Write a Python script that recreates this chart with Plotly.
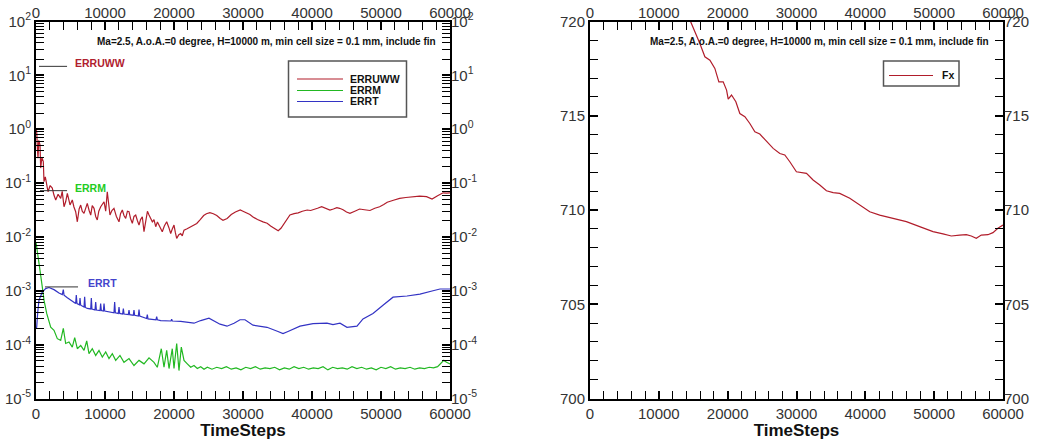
import numpy as np
import plotly.graph_objects as go

W, H = 1038, 441

# ---------------- data ----------------
red_t = [0, 100, 200, 290, 400, 580, 680, 850, 1060, 1160, 1350, 1550, 1740, 2050, 2360, 2600, 2860, 3200,
         3580, 3800, 4060, 4300, 4540, 4930, 5260, 5500, 5750, 5990, 6250, 6480, 6700, 6960, 7200, 7430, 7700,
         7930, 8150, 8410, 8650, 8880, 9100, 9380, 9860, 10100, 10330, 10500, 10720, 11000, 11300, 11650,
         12030, 12250, 12510, 12750, 13000, 13250, 13480, 13700, 13960, 14200, 14450, 14700, 14930, 15150,
         15410, 15650, 15900, 16150, 16380, 16600, 16860, 17100, 17350, 17600, 17830, 18050, 18300, 18600,
         18940, 19250, 19520, 19750, 20000, 20200, 20390, 20700, 20970, 21200, 21450, 21900, 22300, 22800,
         23300, 23800, 24300, 24700, 25200, 25700, 26200, 26700, 27100, 27700, 28300, 28900, 29600, 30000,
         30500, 31000, 31400, 32100, 32900, 33500, 34000, 34600, 35100, 35500, 36000, 36400, 36800, 37400,
         38000, 38600, 39300, 39800, 40300, 40800, 41400, 42000, 42600, 43100, 43600, 44000, 44500, 45000,
         45500, 46200, 46900, 47600, 48400, 49100, 49800, 50400, 50900, 51800, 52700, 53600, 54600, 55600,
         56600, 57000, 57400, 58200, 59000, 59500, 60000]
red_v = [1.0, 0.91, 0.45, 0.29, 0.62, 0.51, 0.19, 0.30, 0.25, 0.106, 0.13, 0.100, 0.069, 0.090, 0.081, 0.060,
         0.0485, 0.062, 0.052, 0.070, 0.0364, 0.045, 0.0646, 0.0392, 0.0485, 0.036, 0.0294, 0.0191, 0.033,
         0.039, 0.030, 0.0274, 0.036, 0.042, 0.031, 0.0255, 0.038, 0.034, 0.024, 0.0206, 0.030, 0.0364,
         0.045, 0.030, 0.069, 0.040, 0.0255, 0.031, 0.034, 0.024, 0.0191, 0.027, 0.0316, 0.025, 0.0221,
         0.030, 0.0294, 0.022, 0.0179, 0.024, 0.0255, 0.020, 0.0166, 0.021, 0.0237, 0.0125, 0.020, 0.030,
         0.0255, 0.022, 0.0191, 0.021, 0.0155, 0.019, 0.0166, 0.014, 0.0125, 0.016, 0.0191, 0.015, 0.0116,
         0.014, 0.0166, 0.012, 0.0094, 0.011, 0.0116, 0.0105, 0.0134, 0.0142, 0.0150, 0.0165, 0.0178, 0.021,
         0.025, 0.027, 0.0282, 0.027, 0.025, 0.022, 0.0204, 0.022, 0.026, 0.029, 0.0316, 0.030, 0.028,
         0.026, 0.0237, 0.021, 0.019, 0.018, 0.016, 0.0145, 0.013, 0.0145, 0.018, 0.022, 0.0255, 0.027,
         0.028, 0.030, 0.0316, 0.031, 0.033, 0.034, 0.0364, 0.034, 0.0316, 0.033, 0.035, 0.034, 0.032,
         0.029, 0.0274, 0.030, 0.033, 0.032, 0.031, 0.034, 0.0364, 0.040, 0.044, 0.048, 0.052, 0.054, 0.056,
         0.057, 0.056, 0.053, 0.0506, 0.058, 0.066, 0.065, 0.066]

green_t = [0, 190, 580, 910, 1160, 1550, 2130, 2610, 3090, 3580, 3960, 4300, 4780, 5260, 5610, 5990, 6480,
           6960, 7350, 7680, 8160, 8650, 9130, 9610, 10100, 10580, 11060, 11550, 12170, 12750, 13480, 14200,
           14930, 15650, 16380, 17100, 17580, 18160, 18550, 18940, 19280, 19750, 20000, 20390, 20720, 21060,
           21450, 21930, 22420, 22900, 23380, 23870, 24350, 24830,
           25500, 26200, 26900, 27600, 28300, 29000, 29700, 30400, 31100, 31800, 32500, 33200, 33900, 34600,
           35300, 36000, 36700, 37400, 38100, 38800, 39500, 40200, 40900, 41600, 42300, 43000, 43700, 44400,
           45100, 45800, 46500, 47200, 47900, 48600, 49300, 50000, 50700, 51400, 52100, 52800, 53500, 54200,
           54900, 55600, 56300, 57000, 57600, 58200, 58700, 59100, 59500, 60000]
green_v = [8.0e-3, 5.7e-3, 2.4e-3, 1.18e-3, 6.7e-4, 3.8e-4, 2.1e-4, 1.84e-4, 1.29e-4, 1.2e-4, 2.0e-4, 1.05e-4,
           1.12e-4, 9.0e-5, 1.35e-4, 8.4e-5, 9.7e-5, 7.8e-5, 1.17e-4, 6.8e-5, 8.4e-5, 6.3e-5, 7.8e-5, 5.9e-5,
           7.3e-5, 5.5e-5, 6.8e-5, 5.1e-5, 6.3e-5, 4.7e-5, 5.5e-5, 4.1e-5, 5.1e-5, 4.4e-5, 5.7e-5, 4.7e-5,
           3.8e-5, 8.4e-5, 3.8e-5, 7.8e-5, 3.6e-5, 8.4e-5, 3.6e-5, 1.05e-4, 3.3e-5, 9.0e-5, 5.1e-5, 4.4e-5,
           3.8e-5, 4.1e-5, 3.6e-5, 3.9e-5, 3.5e-5, 3.8e-5,
           3.5e-5, 3.8e-5, 3.6e-5, 3.9e-5, 3.5e-5, 3.7e-5, 3.4e-5, 3.8e-5, 3.6e-5, 3.9e-5, 3.5e-5, 3.7e-5,
           3.6e-5, 3.8e-5, 3.4e-5, 3.7e-5, 3.5e-5, 3.9e-5, 3.6e-5, 3.8e-5, 3.5e-5, 3.7e-5, 3.6e-5, 3.9e-5,
           3.4e-5, 3.8e-5, 3.6e-5, 3.7e-5, 3.5e-5, 3.9e-5, 3.6e-5, 3.8e-5, 3.5e-5, 3.7e-5, 3.4e-5, 3.8e-5,
           3.6e-5, 3.9e-5, 3.5e-5, 3.7e-5, 3.6e-5, 3.8e-5, 3.5e-5, 3.7e-5, 3.6e-5, 3.8e-5, 3.7e-5, 3.9e-5,
           4.6e-5, 5.1e-5, 4.7e-5, 4.4e-5]

blue_t = [0, 100, 250, 430, 910, 1400, 1880, 2610, 3330, 3810, 3960, 4060, 4540, 5260, 5750, 5840, 5940, 6300,
          6380, 6480, 6960, 7050, 7150, 7430, 7930, 8020, 8110, 8550, 8650, 8750, 9280, 9370, 9470, 9760,
          9860, 9960, 10580, 11300, 11400, 11500, 11930, 12030, 12130, 12560, 12660, 12760, 13380, 13480,
          13580, 14100, 14200, 14300, 14830, 14930, 15030, 16030, 16130, 16230, 17390, 17490, 17590, 18070,
          19560, 19660, 19760, 20970, 22900, 23870, 25070, 25800, 26670, 27680, 28700, 29570, 30290, 31450,
          33480, 35070, 35800, 36520, 38260, 40150, 42170, 43040, 44060, 45070, 46520, 47390, 48840, 50290,
          51740, 53770, 55650, 57540, 58550, 60000]
blue_v = [2.0e-4, 2.1e-4, 4.0e-4, 6.7e-4, 9.5e-4, 1.1e-3, 1.15e-3, 1.05e-3, 9.1e-4, 8.5e-4, 1.05e-3, 8.3e-4,
          7.4e-4, 6.4e-4, 5.8e-4, 8.3e-4, 5.8e-4, 5.5e-4, 7.3e-4, 5.4e-4, 5.0e-4, 7.7e-4, 4.9e-4, 4.7e-4,
          4.6e-4, 7.3e-4, 4.6e-4, 4.4e-4, 6.2e-4, 4.4e-4, 4.3e-4, 5.8e-4, 4.3e-4, 4.2e-4, 5.8e-4, 4.2e-4,
          4.0e-4, 3.9e-4, 6.2e-4, 3.9e-4, 3.8e-4, 5.0e-4, 3.8e-4, 3.7e-4, 4.7e-4, 3.7e-4, 3.6e-4, 4.4e-4,
          3.6e-4, 3.5e-4, 4.4e-4, 3.5e-4, 3.4e-4, 4.5e-4, 3.4e-4, 3.05e-4, 3.6e-4, 3.0e-4, 2.9e-4, 3.3e-4,
          2.9e-4, 2.8e-4, 2.75e-4, 2.95e-4, 2.75e-4, 2.7e-4, 2.5e-4, 2.8e-4, 3.1e-4, 2.8e-4, 2.4e-4, 2.2e-4,
          2.5e-4, 2.9e-4, 2.9e-4, 2.3e-4, 2.1e-4, 1.75e-4, 1.6e-4, 1.75e-4, 2.2e-4, 2.45e-4, 2.5e-4, 2.35e-4,
          2.5e-4, 2.1e-4, 2.2e-4, 3.0e-4, 3.8e-4, 5.4e-4, 7.6e-4, 8.0e-4, 8.7e-4, 1.0e-3, 1.08e-3, 1.08e-3]

fx_t = [13000, 14610, 15960, 16690, 17420, 18140, 18720, 19350, 19840, 20080, 20560, 21190, 21770, 22500,
        23220, 23950, 24670, 25640, 26610, 27580, 28300, 29030, 29990, 31450, 32410, 33380, 34350, 35320,
        36280, 37740, 39190, 40640, 42090, 44030, 45960, 47890, 49830, 51280, 52490, 53700, 54670, 55390,
        56120, 56840, 57810, 58540, 59260, 60000]
fx_v = [722.6, 720.0, 718.83, 718.13, 717.95, 717.51, 716.80, 716.80, 716.36, 715.88, 716.10, 715.74,
        715.12, 714.95, 714.59, 714.15, 714.03, 713.62, 713.27, 713.00, 712.92, 712.56, 712.03, 711.94,
        711.59, 711.33, 711.02, 710.92, 710.88, 710.62, 710.27, 709.91, 709.73, 709.56, 709.38, 709.12,
        708.85, 708.73, 708.62, 708.67, 708.69, 708.62, 708.50, 708.67, 708.69, 708.80, 709.03, 709.20]

series_names = ["ERRUWW", "ERRM", "ERRT"]
series_colors = ["#b11d2b", "#22b822", "#3333c4"]
label_colors = ["#b0202e", "#22cc22", "#4444cc"]
fx_name = "Fx"
fx_color = "#b11d2b"

# label markers for residual curves
label_line_t0 = [435, 580, 1300]
label_line_t1 = [4500, 4500, 6090]
label_line_v = [14.7, 0.0723, 1.18e-3]
label_text_t = [5300, 5300, 7200]
label_text_logv = [1.237, -1.091, -2.859]

x_ticks = [0, 10000, 20000, 30000, 40000, 50000, 60000]
x_ticktext = [str(v) for v in x_ticks]
log_exps = [-5, -4, -3, -2, -1, 0, 1, 2]
log_tickvals = [10.0 ** e for e in log_exps]
log_ticktext = ["10<sup>%d</sup>" % e for e in log_exps]
log_minor = [m * 10.0 ** e for e in log_exps[:-1] for m in range(2, 10)]
fx_ticks = [700, 705, 710, 715, 720]

subtitle = "Ma=2.5, A.o.A.=0 degree, H=10000 m, min cell size = 0.1 mm, include fin"

# ---------------- layout helpers ----------------
def PX(x):
    return x / W

def PY(y):
    return 1 - y / H

L_dom = [PX(36), PX(450)]
R_dom = [PX(590), PX(1003)]
Y_dom = [PY(398.5), PY(21.5)]

TICKFONT = dict(family="Liberation Sans, Arial, sans-serif", size=15, color="#333333")
LABFONT = "Liberation Sans, Arial, sans-serif"

fig = go.Figure()

for t, v, name, col in zip([red_t, green_t, blue_t], [red_v, green_v, blue_v], series_names, series_colors):
    fig.add_trace(go.Scatter(x=t, y=v, mode="lines", name=name, line=dict(color=col, width=1.2),
                             xaxis="x", yaxis="y", showlegend=False))

for t0, t1, v in zip(label_line_t0, label_line_t1, label_line_v):
    fig.add_trace(go.Scatter(x=[t0, t1], y=[v, v], mode="lines", line=dict(color="#333333", width=1),
                             xaxis="x", yaxis="y", showlegend=False, hoverinfo="skip"))

fig.add_trace(go.Scatter(x=fx_t, y=fx_v, mode="lines", name=fx_name, line=dict(color=fx_color, width=1.2),
                         xaxis="x2", yaxis="y2", showlegend=False))

# dummy traces so the mirrored label axes are drawn
fig.add_trace(go.Scatter(x=[None], y=[None], xaxis="x3", yaxis="y", showlegend=False, hoverinfo="skip"))
fig.add_trace(go.Scatter(x=[None], y=[None], xaxis="x", yaxis="y3", showlegend=False, hoverinfo="skip"))
fig.add_trace(go.Scatter(x=[None], y=[None], xaxis="x4", yaxis="y2", showlegend=False, hoverinfo="skip"))
fig.add_trace(go.Scatter(x=[None], y=[None], xaxis="x2", yaxis="y4", showlegend=False, hoverinfo="skip"))

main_ax = dict(showline=True, linewidth=2, linecolor="black", mirror="allticks", ticks="inside",
               ticklen=8, tickwidth=2, tickcolor="black", showgrid=False, zeroline=False,
               tickfont=TICKFONT, automargin=False)
lab_ax = dict(showline=False, ticks="", showgrid=False, zeroline=False, tickfont=TICKFONT, automargin=False)
title_font = dict(family="Liberation Sans, Arial, sans-serif", size=17, color="#111111")

xminor = dict(dtick=2000, ticks="inside", ticklen=4, tickwidth=1, tickcolor="black")

fig.update_layout(
    width=W, height=H, template="none", paper_bgcolor="white", plot_bgcolor="white",
    margin=dict(l=0, r=0, t=0, b=0), showlegend=False,
    xaxis=dict(domain=L_dom, anchor="y", range=[0, 60000], tickmode="array", tickvals=x_ticks,
               ticktext=x_ticktext, minor=xminor,
               title=dict(text="<b>TimeSteps</b>", font=title_font, standoff=0), **main_ax),
    yaxis=dict(domain=Y_dom, anchor="x", type="log", range=[-5, 2], tickmode="array",
               tickvals=log_tickvals, ticktext=log_ticktext,
               minor=dict(tickvals=log_minor, ticks="inside", ticklen=4, tickwidth=1, tickcolor="black"),
               **main_ax),
    xaxis3=dict(overlaying="x", side="top", anchor="y", range=[0, 60000], tickmode="array",
                tickvals=x_ticks, ticktext=x_ticktext, **lab_ax),
    yaxis3=dict(overlaying="y", side="right", anchor="x", type="log", range=[-5, 2], tickmode="array",
                tickvals=log_tickvals, ticktext=log_ticktext, **lab_ax),
    xaxis2=dict(domain=R_dom, anchor="y2", range=[0, 60000], tickmode="array", tickvals=x_ticks,
                ticktext=x_ticktext, minor=xminor,
                title=dict(text="<b>TimeSteps</b>", font=title_font, standoff=0), **main_ax),
    yaxis2=dict(domain=Y_dom, anchor="x2", range=[700, 720], tickmode="array", tickvals=fx_ticks,
                minor=dict(dtick=1, ticks="inside", ticklen=4, tickwidth=1, tickcolor="black"), **main_ax),
    xaxis4=dict(overlaying="x2", side="top", anchor="y2", range=[0, 60000], tickmode="array",
                tickvals=x_ticks, ticktext=x_ticktext, **lab_ax),
    yaxis4=dict(overlaying="y2", side="right", anchor="x2", range=[700, 720], tickmode="array",
                tickvals=fx_ticks, **lab_ax),
)

annotations = []
shapes = []

# subtitles
for xr, yr in [("x domain", "y domain"), ("x2 domain", "y2 domain")]:
    annotations.append(dict(text="<b>%s</b>" % subtitle, xref=xr, yref=yr, x=0.972, y=0.947,
                            xanchor="right", yanchor="middle", showarrow=False,
                            font=dict(family=LABFONT, size=10, color="#111111")))

# curve labels (data coordinates)
for name, col, tt, ly in zip(series_names, label_colors, label_text_t, label_text_logv):
    annotations.append(dict(text="<b>%s</b>" % name, xref="x", yref="y", x=tt, y=ly, xanchor="left",
                            yanchor="middle", showarrow=False,
                            font=dict(family=LABFONT, size=10.5, color=col)))

# legend (left)
shapes.append(dict(type="rect", xref="paper", yref="paper", x0=PX(288.5), x1=PX(406.5), y0=PY(117), y1=PY(61),
                   line=dict(color="#555555", width=1.5), fillcolor="rgba(0,0,0,0)"))
for i, (name, col) in enumerate(zip(series_names, series_colors)):
    yy = [79, 90.5, 101.5][i]
    shapes.append(dict(type="line", xref="paper", yref="paper", x0=PX(297), x1=PX(343), y0=PY(yy), y1=PY(yy),
                       line=dict(color=col, width=1.2)))
    annotations.append(dict(text="<b>%s</b>" % name, xref="paper", yref="paper", x=PX(348), y=PY(yy),
                            xanchor="left", yanchor="middle", showarrow=False,
                            font=dict(family=LABFONT, size=10.5, color="#111111")))

# legend (right)
shapes.append(dict(type="rect", xref="paper", yref="paper", x0=PX(883.5), x1=PX(959), y0=PY(86), y1=PY(61),
                   line=dict(color="#555555", width=1.5), fillcolor="rgba(0,0,0,0)"))
shapes.append(dict(type="line", xref="paper", yref="paper", x0=PX(889), x1=PX(933), y0=PY(75.5), y1=PY(75.5),
                   line=dict(color=fx_color, width=1.2)))
annotations.append(dict(text="<b>%s</b>" % fx_name, xref="paper", yref="paper", x=PX(940), y=PY(75.5),
                        xanchor="left", yanchor="middle", showarrow=False,
                        font=dict(family=LABFONT, size=10.5, color="#111111")))

fig.update_layout(annotations=annotations, shapes=shapes)

fig.write_html("out.html", config={"displayModeBar": False},
               post_script="document.body.style.margin='0px';")
